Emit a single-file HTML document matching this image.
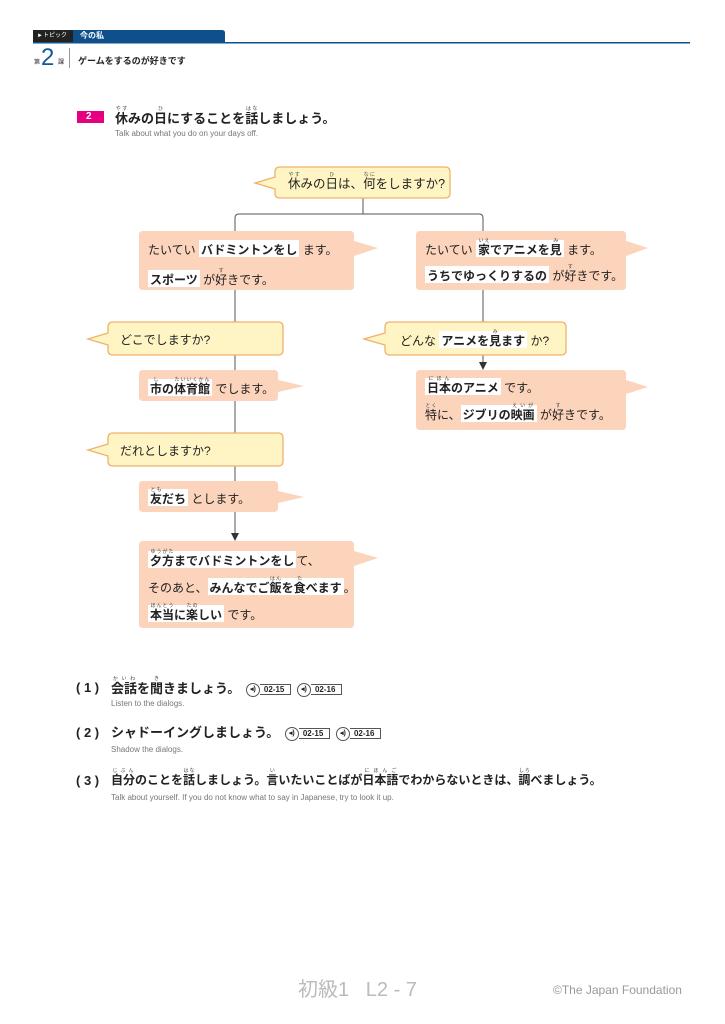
<!DOCTYPE html>
<html><head><meta charset="utf-8"><style>
*{margin:0;padding:0;box-sizing:border-box}
body{width:725px;height:1024px;background:#fff;position:relative;overflow:hidden;font-family:"Liberation Sans","Noto Sans CJK JP",sans-serif;color:#222}
.t{position:absolute;white-space:nowrap;font-size:12px;line-height:16px}
.h{background:#fff;font-weight:bold;padding:3px 2px 0 2px}
rt{font-size:5px;font-weight:normal;color:#444}
.en{position:absolute;font-size:8px;color:#777;white-space:nowrap}
.num{position:absolute;font-size:13px;font-weight:bold;white-space:nowrap;line-height:16px}
.au{display:inline-block;vertical-align:middle;border:1px solid #555;border-left:none;font-size:8px;font-weight:bold;padding:0 6px 0 4px;height:11px;line-height:10px;position:relative;margin-left:16px}
.au:before{content:"◂)";position:absolute;left:-14px;top:-2px;width:12px;height:12px;border:1px solid #555;border-radius:50%;font-size:7px;line-height:12px;text-align:center;background:#fff}
</style></head><body>
<svg width="725" height="1024" style="position:absolute;left:0;top:0">
<rect x="33" y="30" width="40" height="12" fill="#222"/>
<path d="M73 30 H222 Q225 30 225 33 V42 H73Z" fill="#0e4f8c"/>
<rect x="33" y="42" width="657" height="1.5" fill="#0e4f8c"/>
<rect x="69" y="48" width="1" height="20" fill="#999"/>
<rect x="77" y="111" width="27" height="12" fill="#e4007f"/>
<g fill="none" stroke="#555" stroke-width="1">
<path d="M363 198 V214"/>
<path d="M235 231 V218 Q235 214 239 214 H479 Q483 214 483 218 V231"/>
<path d="M235 290 V536"/>
<path d="M483 290 V364"/>
</g>
<path d="M231 533 L239 533 L235 541Z" fill="#333"/>
<path d="M479 362 L487 362 L483 370Z" fill="#333"/>
<g fill="#fcd3bb">
<path d="M143 231 H350 Q354 231 354 235 V241 L378 248 L354 256 V286 Q354 290 350 290 H143 Q139 290 139 286 V235 Q139 231 143 231Z"/>
<path d="M420 231 H622 Q626 231 626 235 V241 L648 248 L626 256 V286 Q626 290 622 290 H420 Q416 290 416 286 V235 Q416 231 420 231Z"/>
<path d="M143 370 H274 Q278 370 278 374 V380 L304 386 L278 392 V397 Q278 401 274 401 H143 Q139 401 139 397 V374 Q139 370 143 370Z"/>
<path d="M420 370 H622 Q626 370 626 374 V380 L648 387 L626 394 V426 Q626 430 622 430 H420 Q416 430 416 426 V374 Q416 370 420 370Z"/>
<path d="M143 481 H274 Q278 481 278 485 V491 L304 497 L278 503 V508 Q278 512 274 512 H143 Q139 512 139 508 V485 Q139 481 143 481Z"/>
<path d="M143 541 H350 Q354 541 354 545 V551 L378 558 L354 566 V624 Q354 628 350 628 H143 Q139 628 139 624 V545 Q139 541 143 541Z"/>
</g>
<g fill="#fff5c4" stroke="#efb26c" stroke-width="1.3">
<path d="M280 167 H445 Q450 167 450 172 V193 Q450 198 445 198 H280 Q275 198 275 193 V189 L255 183 L275 177 V172 Q275 167 280 167Z"/>
<path d="M113 322 H278 Q283 322 283 327 V350 Q283 355 278 355 H113 Q108 355 108 350 V345 L88 339 L108 333 V327 Q108 322 113 322Z"/>
<path d="M390 322 H561 Q566 322 566 327 V350 Q566 355 561 355 H390 Q385 355 385 350 V345 L364 339 L385 333 V327 Q385 322 390 322Z"/>
<path d="M113 433 H278 Q283 433 283 438 V461 Q283 466 278 466 H113 Q108 466 108 461 V456 L88 450 L108 444 V438 Q108 433 113 433Z"/>
</g>
</svg>
<div class="t" style="left:37px;top:30px;color:#fff;font-size:6px;line-height:12px">►トピック</div>
<div class="t" style="left:80px;top:30px;color:#fff;font-size:8px;line-height:12px;font-weight:bold">今の私</div>
<div class="t" style="left:34px;top:55px;font-size:6px">第</div>
<div class="t" style="left:41px;top:46px;font-size:24px;line-height:24px;color:#0e5a9a">2</div>
<div class="t" style="left:58px;top:55px;font-size:6px">課</div>
<div class="t" style="left:78px;top:53px;font-size:9px;font-weight:bold">ゲームをするのが好きです</div>
<div class="t" style="left:86px;top:110px;color:#fff;font-size:10px;font-weight:bold;line-height:14px">2</div>
<div class="t" style="left:115px;top:106px;font-size:13px;line-height:18px;font-weight:bold"><ruby>休<rt>やす</rt></ruby>みの<ruby>日<rt>ひ</rt></ruby>にすることを<ruby>話<rt>はな</rt></ruby>しましょう。</div>
<div class="en" style="left:115px;top:129px">Talk about what you do on your days off.</div>

<div class="t" style="left:288px;top:172px;font-size:12.5px"><ruby>休<rt>やす</rt></ruby>みの<ruby>日<rt>ひ</rt></ruby>は、<ruby>何<rt>なに</rt></ruby>をしますか?</div>

<div class="t" style="left:148px;top:242px">たいてい <span class="h">バドミントンをし</span> ます。</div>
<div class="t" style="left:148px;top:268px"><span class="h">スポーツ</span> が<ruby>好<rt>す</rt></ruby>きです。</div>
<div class="t" style="left:425px;top:238px">たいてい <span class="h"><ruby>家<rt>いえ</rt></ruby>でアニメを<ruby>見<rt>み</rt></ruby></span> ます。</div>
<div class="t" style="left:425px;top:264px"><span class="h">うちでゆっくりするの</span> が<ruby>好<rt>す</rt></ruby>きです。</div>

<div class="t" style="left:120px;top:332px">どこでしますか?</div>
<div class="t" style="left:400px;top:329px">どんな <span class="h">アニメを<ruby>見<rt>み</rt></ruby>ます</span> か?</div>

<div class="t" style="left:148px;top:377px"><span class="h"><ruby>市<rt>し</rt></ruby>の<ruby>体育館<rt>たいいくかん</rt></ruby></span> でします。</div>
<div class="t" style="left:425px;top:376px"><span class="h"><ruby>日本<rt>にほん</rt></ruby>のアニメ</span> です。</div>
<div class="t" style="left:425px;top:403px"><ruby>特<rt>とく</rt></ruby>に、<span class="h">ジブリの<ruby>映画<rt>えいが</rt></ruby></span> が<ruby>好<rt>す</rt></ruby>きです。</div>

<div class="t" style="left:120px;top:443px">だれとしますか?</div>
<div class="t" style="left:148px;top:487px"><span class="h"><ruby>友<rt>とも</rt></ruby>だち</span> とします。</div>

<div class="t" style="left:148px;top:549px"><span class="h"><ruby>夕方<rt>ゆうがた</rt></ruby>までバドミントンをし</span>て、</div>
<div class="t" style="left:148px;top:576px">そのあと、<span class="h">みんなでご<ruby>飯<rt>はん</rt></ruby>を<ruby>食<rt>た</rt></ruby>べます</span>。</div>
<div class="t" style="left:148px;top:603px"><span class="h"><ruby>本当<rt>ほんとう</rt></ruby>に<ruby>楽<rt>たの</rt></ruby>しい</span> です。</div>

<div class="num" style="left:76px;top:680px">( 1 )</div>
<div class="num" style="left:111px;top:676px"><ruby>会話<rt>かいわ</rt></ruby>を<ruby>聞<rt>き</rt></ruby>きましょう。 <span class="au">02-15</span> <span class="au">02-16</span></div>
<div class="en" style="left:111px;top:699px">Listen to the dialogs.</div>
<div class="num" style="left:76px;top:725px">( 2 )</div>
<div class="num" style="left:111px;top:725px">シャドーイングしましょう。 <span class="au">02-15</span> <span class="au">02-16</span></div>
<div class="en" style="left:111px;top:745px">Shadow the dialogs.</div>
<div class="num" style="left:76px;top:773px">( 3 )</div>
<div class="num" style="left:111px;top:768px;font-size:12px"><ruby>自分<rt>じぶん</rt></ruby>のことを<ruby>話<rt>はな</rt></ruby>しましょう。<ruby>言<rt>い</rt></ruby>いたいことばが<ruby>日本語<rt>にほんご</rt></ruby>でわからないときは、<ruby>調<rt>しら</rt></ruby>べましょう。</div>
<div class="en" style="left:111px;top:793px">Talk about yourself. If you do not know what to say in Japanese, try to look it up.</div>

<div class="t" style="left:298px;top:978px;font-size:20px;line-height:24px;color:#bbb">初級1&nbsp;&nbsp;&nbsp;L2 - 7</div>
<div class="t" style="left:553px;top:982px;font-size:12px;color:#999">©The Japan Foundation</div>
</body></html>
